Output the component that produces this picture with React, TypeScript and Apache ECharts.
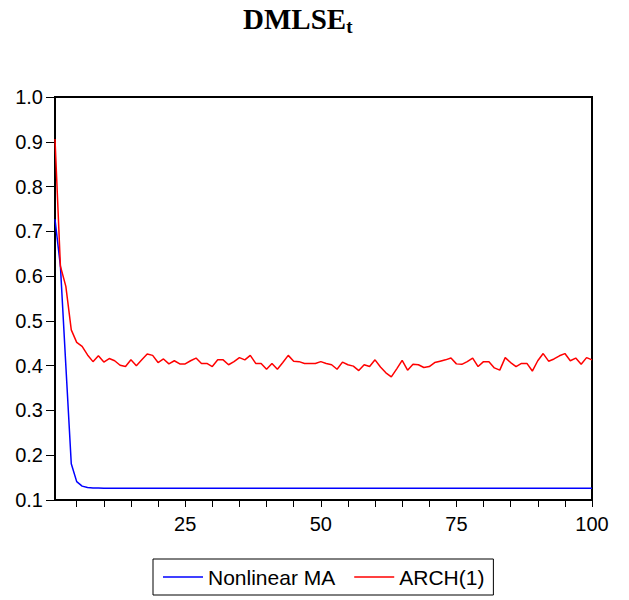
import React, { useEffect, useRef } from "react";
import * as echarts from "echarts";

const categories: string[] = Array.from({ length: 100 }, (_, i) => String(i + 1));

const nonlinearMA: number[] = [
  0.727, 0.622, 0.4, 0.181, 0.141, 0.131, 0.128, 0.127, 0.127, 0.126,
  0.126, 0.126, 0.126, 0.126, 0.126, 0.126, 0.126, 0.126, 0.126, 0.126,
  0.126, 0.126, 0.126, 0.126, 0.126, 0.126, 0.126, 0.126, 0.126, 0.126,
  0.126, 0.126, 0.126, 0.126, 0.126, 0.126, 0.126, 0.126, 0.126, 0.126,
  0.126, 0.126, 0.126, 0.126, 0.126, 0.126, 0.126, 0.126, 0.126, 0.126,
  0.126, 0.126, 0.126, 0.126, 0.126, 0.126, 0.126, 0.126, 0.126, 0.126,
  0.126, 0.126, 0.126, 0.126, 0.126, 0.126, 0.126, 0.126, 0.126, 0.126,
  0.126, 0.126, 0.126, 0.126, 0.126, 0.126, 0.126, 0.126, 0.126, 0.126,
  0.126, 0.126, 0.126, 0.126, 0.126, 0.126, 0.126, 0.126, 0.126, 0.126,
  0.126, 0.126, 0.126, 0.126, 0.126, 0.126, 0.126, 0.126, 0.126, 0.126,
];

const arch1: number[] = [
  0.906, 0.622, 0.577, 0.48, 0.452, 0.443, 0.424, 0.409, 0.422, 0.408,
  0.416, 0.411, 0.401, 0.398, 0.413, 0.4, 0.413, 0.426, 0.423, 0.407,
  0.415, 0.404, 0.411, 0.404, 0.404, 0.411, 0.417, 0.405, 0.405, 0.398,
  0.413, 0.413, 0.402, 0.409, 0.418, 0.413, 0.423, 0.405, 0.405, 0.392,
  0.405, 0.392, 0.407, 0.423, 0.41, 0.409, 0.405, 0.405, 0.405, 0.409,
  0.405, 0.402, 0.392, 0.408, 0.402, 0.399, 0.389, 0.402, 0.398, 0.413,
  0.397, 0.384, 0.375, 0.393, 0.412, 0.39, 0.403, 0.402, 0.396, 0.398,
  0.407, 0.41, 0.413, 0.417, 0.404, 0.403, 0.409, 0.417, 0.398, 0.409,
  0.409, 0.395, 0.39, 0.418, 0.407, 0.398, 0.405, 0.405, 0.388, 0.411,
  0.427, 0.41, 0.415, 0.422, 0.427, 0.411, 0.417, 0.403, 0.418, 0.413,
];

const SANS = "'Liberation Sans', Arial, sans-serif";
const SERIF = "'Liberation Serif', 'Times New Roman', serif";

export default function App() {
  const ref = useRef<HTMLDivElement>(null);

  useEffect(() => {
    document.body.style.margin = "0";
    if (!ref.current) return;
    const chart = echarts.init(ref.current, undefined, { renderer: "svg" });
    chart.setOption({
      animation: false,
      backgroundColor: "#ffffff",
      title: {
        text: "{a|DMLSE}{b|t}",
        left: 243,
        top: 2,
        padding: 0,
        textStyle: {
          rich: {
            a: { fontFamily: SERIF, fontWeight: "bold", fontSize: 29, lineHeight: 34, color: "#000" },
            b: { fontFamily: SERIF, fontWeight: "bold", fontSize: 19, lineHeight: 17, verticalAlign: "bottom", color: "#000" },
          },
        },
      },
      legend: {
        left: 153,
        top: 559,
        orient: "horizontal",
        padding: [7, 9, 7, 10],
        borderColor: "#000",
        borderWidth: 1,
        icon: "rect",
        itemWidth: 40,
        itemHeight: 1.5,
        itemGap: 19,
        textStyle: { fontFamily: SANS, fontSize: 21, lineHeight: 22, color: "#000" },
        data: ["Nonlinear MA", "ARCH(1)"],
      },
      grid: {
        left: 55,
        right: 37,
        top: 97,
        bottom: 100,
        show: true,
        borderColor: "#000",
        borderWidth: 2,
        backgroundColor: "transparent",
      },
      xAxis: {
        type: "category",
        data: categories,
        boundaryGap: false,
        axisLine: { show: true, lineStyle: { color: "#000", width: 2 } },
        axisTick: {
          show: true,
          length: 7,
          lineStyle: { color: "#000", width: 1 },
          interval: (_i: number, v: string) => Number(v) % 5 === 0,
        },
        axisLabel: {
          show: true,
          margin: 14,
          fontFamily: SANS,
          fontSize: 20,
          color: "#000",
          interval: (_i: number, v: string) => Number(v) % 25 === 0,
        },
        splitLine: { show: false },
      },
      yAxis: {
        type: "value",
        min: 0.1,
        max: 1.0,
        interval: 0.1,
        axisLine: { show: true, lineStyle: { color: "#000", width: 2 } },
        axisTick: { show: true, length: 9, lineStyle: { color: "#000", width: 1 } },
        axisLabel: {
          margin: 12,
          fontFamily: SANS,
          fontSize: 20,
          color: "#000",
          formatter: (v: number) => v.toFixed(1),
        },
        splitLine: { show: false },
      },
      series: [
        {
          name: "Nonlinear MA",
          type: "line",
          data: nonlinearMA,
          symbol: "none",
          lineStyle: { color: "#0000ff", width: 1.5 },
          itemStyle: { color: "#0000ff" },
        },
        {
          name: "ARCH(1)",
          type: "line",
          data: arch1,
          symbol: "none",
          lineStyle: { color: "#ff0000", width: 1.5 },
          itemStyle: { color: "#ff0000" },
        },
      ],
    });
    return () => chart.dispose();
  }, []);

  return <div ref={ref} style={{ width: 629, height: 600 }} />;
}
